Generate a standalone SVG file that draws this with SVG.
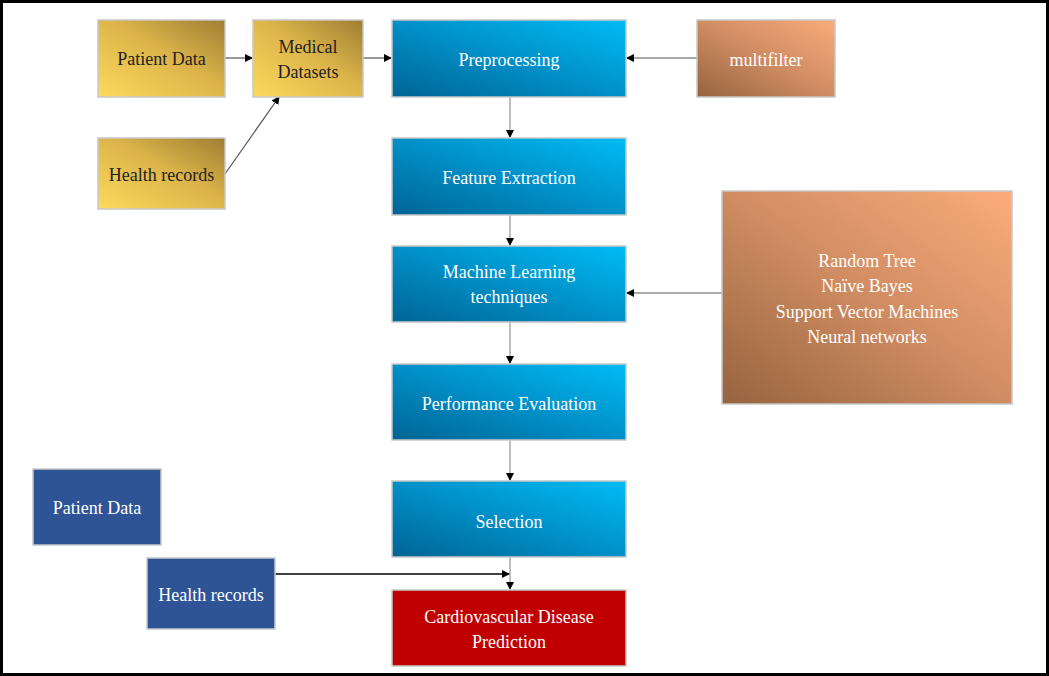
<svg xmlns="http://www.w3.org/2000/svg" width="1049" height="676" viewBox="0 0 1049 676">
<defs>
<linearGradient id="gBlue" x1="0" y1="1" x2="1" y2="0"><stop offset="0" stop-color="#006494"/><stop offset="0.5" stop-color="#0090c8"/><stop offset="1" stop-color="#00bcf5"/></linearGradient>
<linearGradient id="gGold" x1="0" y1="1" x2="1" y2="0"><stop offset="0" stop-color="#fcda5c"/><stop offset="0.55" stop-color="#dcb44a"/><stop offset="1" stop-color="#9e7e32"/></linearGradient>
<linearGradient id="gOr" x1="0" y1="1" x2="1" y2="0"><stop offset="0" stop-color="#95643f"/><stop offset="0.5" stop-color="#d08c62"/><stop offset="1" stop-color="#fbac7c"/></linearGradient>
<marker id="ah" markerWidth="8" markerHeight="8" refX="7" refY="4" orient="auto" markerUnits="userSpaceOnUse"><path d="M0,0 L8,4 L0,8 z" fill="#000"/></marker>
</defs>
<style>
.b{stroke:#c8c8c8;stroke-width:1.5}
text{font-family:"Liberation Serif","DejaVu Serif",serif;font-size:18px;text-anchor:middle}
.w{fill:#fff}.k{fill:#222}
.c{fill:none;stroke:#555;stroke-width:1.2}
.g{fill:none;stroke:#aaa;stroke-width:1.5}
</style>
<rect x="0" y="0" width="1049" height="676" fill="#fff"/>
<rect x="1.5" y="1.5" width="1046" height="673" fill="none" stroke="#000" stroke-width="3"/>
<g id="connectors">
<line class="c" x1="225" y1="58" x2="252" y2="58" marker-end="url(#ah)"/>
<line class="c" x1="363" y1="58" x2="391" y2="58" marker-end="url(#ah)"/>
<line class="c" x1="225" y1="174" x2="279" y2="97" marker-end="url(#ah)"/>
<line class="c" x1="697" y1="58" x2="627" y2="58" marker-end="url(#ah)"/>
<line class="g" x1="510" y1="97" x2="510" y2="137" marker-end="url(#ah)"/>
<line class="g" x1="510" y1="215" x2="510" y2="245" marker-end="url(#ah)"/>
<line class="g" x1="510" y1="322" x2="510" y2="363" marker-end="url(#ah)"/>
<line class="g" x1="510" y1="440" x2="510" y2="480" marker-end="url(#ah)"/>
<line class="g" x1="510" y1="557" x2="510" y2="589" marker-end="url(#ah)"/>
<line class="c" x1="722" y1="293" x2="627" y2="293" marker-end="url(#ah)"/>
<line x1="275" y1="574" x2="509" y2="574" stroke="#000" stroke-width="1.5" marker-end="url(#ah)"/>
</g>
<g id="patient-data-1"><rect class="b" x="98" y="20" width="127" height="77" fill="url(#gGold)"/><text class="k" x="161.5" y="65">Patient Data</text></g>
<g id="medical-datasets"><rect class="b" x="253" y="20" width="110" height="77" fill="url(#gGold)"/><text class="k" x="308" y="53">Medical</text><text class="k" x="308" y="78">Datasets</text></g>
<g id="health-records-1"><rect class="b" x="98" y="138" width="127" height="71" fill="url(#gGold)"/><text class="k" x="161.5" y="181">Health records</text></g>
<g id="preprocessing"><rect class="b" x="392" y="20" width="234" height="77" fill="url(#gBlue)"/><text class="w" x="509" y="66">Preprocessing</text></g>
<g id="multifilter"><rect class="b" x="697" y="20" width="138" height="77" fill="url(#gOr)"/><text class="w" x="766" y="66">multifilter</text></g>
<g id="feature-extraction"><rect class="b" x="392" y="138" width="234" height="77" fill="url(#gBlue)"/><text class="w" x="509" y="184">Feature Extraction</text></g>
<g id="ml-techniques"><rect class="b" x="392" y="246" width="234" height="76" fill="url(#gBlue)"/><text class="w" x="509" y="278">Machine Learning</text><text class="w" x="509" y="303">techniques</text></g>
<g id="algorithms"><rect class="b" x="722" y="191" width="290" height="213" fill="url(#gOr)"/><text class="w" x="867" y="267">Random Tree</text><text class="w" x="867" y="292">Naïve Bayes</text><text class="w" x="867" y="318">Support Vector Machines</text><text class="w" x="867" y="343">Neural networks</text></g>
<g id="performance-evaluation"><rect class="b" x="392" y="364" width="234" height="76" fill="url(#gBlue)"/><text class="w" x="509" y="410">Performance Evaluation</text></g>
<g id="selection"><rect class="b" x="392" y="481" width="234" height="76" fill="url(#gBlue)"/><text class="w" x="509" y="528">Selection</text></g>
<g id="patient-data-2"><rect class="b" x="33" y="469" width="128" height="76" fill="#2e5496"/><text class="w" x="97" y="514">Patient Data</text></g>
<g id="health-records-2"><rect class="b" x="147" y="558" width="128" height="71" fill="#2e5496"/><text class="w" x="211" y="601">Health records</text></g>
<g id="cvd-prediction"><rect class="b" x="392" y="590" width="234" height="76" fill="#c00000"/><text class="w" x="509" y="623">Cardiovascular Disease</text><text class="w" x="509" y="648">Prediction</text></g>
</svg>
